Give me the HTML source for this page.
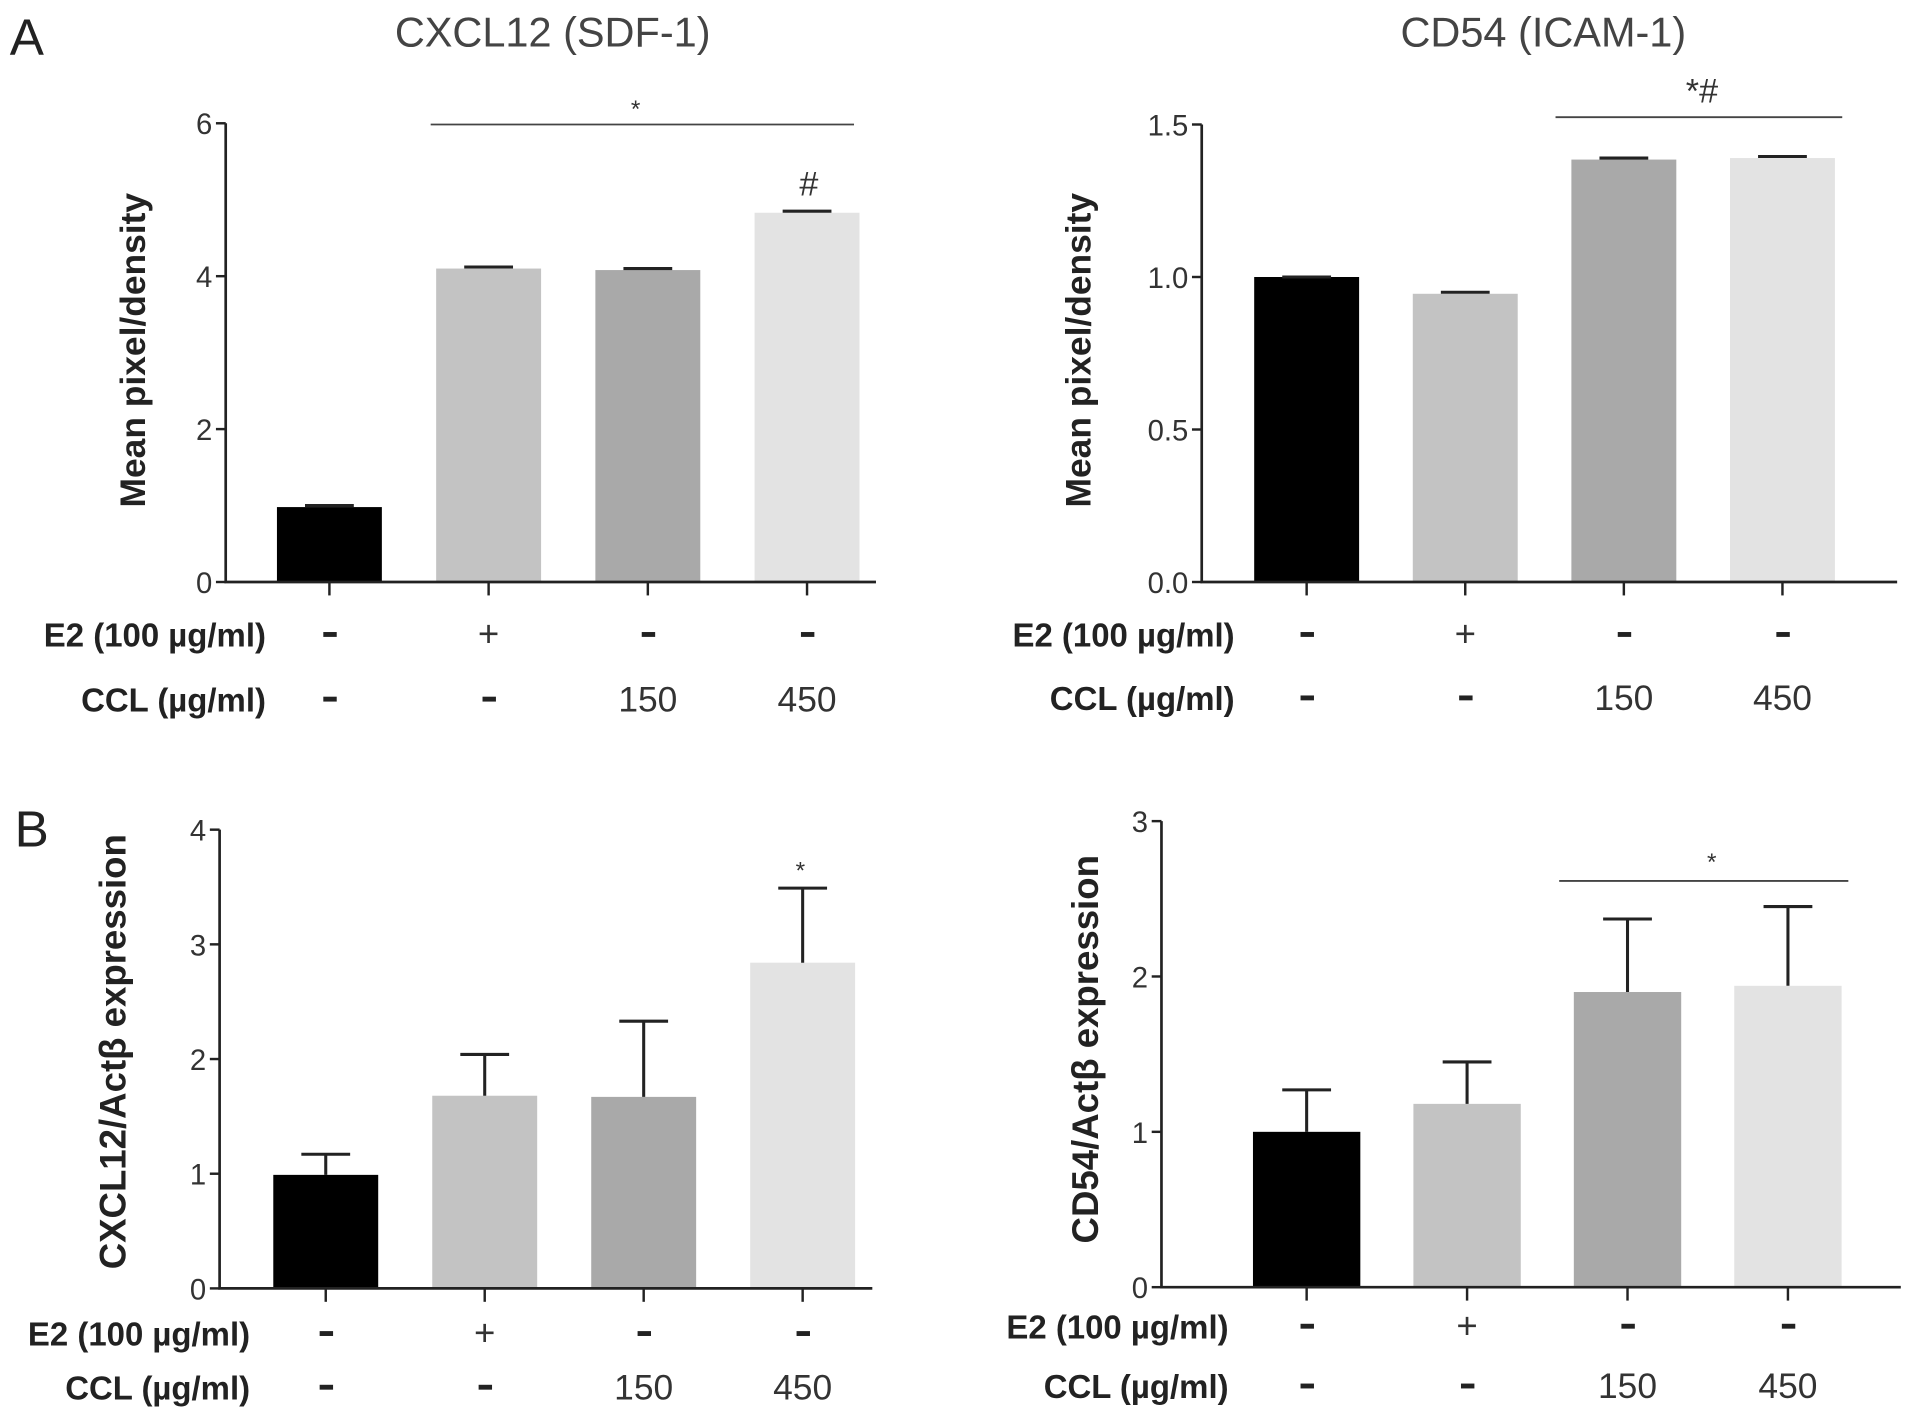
<!DOCTYPE html>
<html><head><meta charset="utf-8"><style>
html,body{margin:0;padding:0;background:#fff;}
svg{display:block;font-family:"Liberation Sans",sans-serif;}
</style></head><body>
<svg id="fig" width="1913" height="1419" viewBox="0 0 1568 1163">
<text x="8" y="45" font-size="42" fill="#222">A</text>
<text x="12" y="694" font-size="42" fill="#222">B</text>
</svg>
<script>
const categories = ["Control", "E2", "CCL150", "CCL450"];
const e2Labels = ["-", "+", "-", "-"];
const cclLabels = ["-", "-", "150", "450"];
const colors = ["#000000", "#c3c3c3", "#a9a9a9", "#e3e3e3"];
const aCxclValues = [0.98, 4.1, 4.08, 4.83];
const aCxclErr = [1.0, 4.12, 4.1, 4.85];
const aCxclTicks = [0, 2, 4, 6];
const aCd54Values = [1.0, 0.945, 1.385, 1.39];
const aCd54Err = [1.0, 0.95, 1.39, 1.395];
const aCd54Ticks = ["0.0", "0.5", "1.0", "1.5"];
const bCxclValues = [0.99, 1.68, 1.67, 2.84];
const bCxclErr = [1.17, 2.04, 2.33, 3.49];
const bCxclTicks = [0, 1, 2, 3, 4];
const bCd54Values = [1.0, 1.18, 1.9, 1.94];
const bCd54Err = [1.27, 1.45, 2.37, 2.45];
const bCd54Ticks = [0, 1, 2, 3];

const NS = "http://www.w3.org/2000/svg";
const svg = document.getElementById("fig");
function mk(tag, attrs, parent, txt) {
  const e = document.createElementNS(NS, tag);
  for (const k in attrs) e.setAttribute(k, attrs[k]);
  if (txt !== undefined) e.textContent = txt;
  (parent || svg).appendChild(e);
  return e;
}
function signLabel(g, x, yy, s) {
  if (s === "-") {
    const d = mk("rect", {x: x - 5, y: yy - 2, width: 11, height: 4, fill: "#222"}, g);
    
    
  } else {
    const t = mk("text", {x: x, y: yy + 10, "font-size": s === "+" ? 30 : 29, fill: "#333", "text-anchor": "middle"}, g, s);
    
    
  }
}
function panel(p) {
  const g = mk("g", {});
  
  
  const ticks = p.ticks.map(Number);
  const vmax = ticks[ticks.length - 1];
  const y = v => p.y0 - (v / vmax) * (p.y0 - p.yTop);
  const x = i => p.x1 + p.step * i;
  if (p.title) {
    const t = mk("text", {x: p.titleX, y: 38, "font-size": 34, fill: "#444", "text-anchor": "middle"}, g, p.title);
    
    
  }
  p.values.forEach((v, i) => {
    const r = mk("rect", {x: x(i) - p.bw / 2, y: y(v), width: p.bw, height: p.y0 - y(v), fill: colors[i]}, g);
    
    
    const e = p.err[i];
    const eb = mk("path", {d: `M${x(i)} ${y(v)}V${y(e)}M${x(i) - p.cap} ${y(e)}H${x(i) + p.cap}`, stroke: "#222", "stroke-width": 2.5, fill: "none"}, g);
    
    
  });
  const ax = mk("path", {d: `M${p.ax} ${p.yTop}V${p.y0}H${p.xEnd}`, stroke: "#222", "stroke-width": 2.2, fill: "none"}, g);
  
  
  p.ticks.forEach(t => {
    const yy = y(Number(t));
    mk("line", {x1: p.ax - 8, x2: p.ax, y1: yy, y2: yy, stroke: "#222", "stroke-width": 2}, g);
    const tl = mk("text", {x: p.ax - 11, y: yy + 9, "font-size": 24, fill: "#333", "text-anchor": "end"}, g, String(t));
    
    
  });
  categories.forEach((c, i) => {
    mk("line", {x1: x(i), x2: x(i), y1: p.y0, y2: p.y0 + 11, stroke: "#222", "stroke-width": 2}, g);
    signLabel(g, x(i), p.rowE, e2Labels[i]);
    signLabel(g, x(i), p.rowC, cclLabels[i]);
  });
  const l1 = mk("text", {x: p.labX, y: p.rowE + 10, "font-size": 27, "font-weight": "bold", fill: "#222", "text-anchor": "end"}, g, "E2 (100 µg/ml)");
  
  
  const l2 = mk("text", {x: p.labX, y: p.rowC + 10, "font-size": 27, "font-weight": "bold", fill: "#222", "text-anchor": "end"}, g, "CCL (µg/ml)");
  
  
  const yt = mk("text", {x: 0, y: 0, "font-size": p.ytSize, "font-weight": "bold", fill: "#222", "text-anchor": "middle", transform: `translate(${p.ytX},${p.ytY}) rotate(-90)`}, g, p.ytitle);
  
  
  if (p.sigLine) {
    const s = mk("line", {x1: p.sigLine[0], x2: p.sigLine[1], y1: p.sigLine[2], y2: p.sigLine[2], stroke: "#444", "stroke-width": 1.5}, g);
    
    
  }
  p.marks.forEach(m => {
    const t = mk("text", {x: m[0], y: m[1], "font-size": m[3] || 22, fill: "#333", "text-anchor": "middle"}, g, m[2]);
    
    
  });
}
panel({name: "chart-a-cxcl12", title: "CXCL12 (SDF-1)", titleX: 453, ticks: aCxclTicks, values: aCxclValues, err: aCxclErr,
  ax: 185, yTop: 101, y0: 477, xEnd: 718, x1: 270, step: 130.5, bw: 86, cap: 20, rowE: 520, rowC: 573, labX: 218,
  ytitle: "Mean pixel/density", ytSize: 29, ytX: 119, ytY: 287, sigLine: [353, 700, 102], marks: [[521, 96, "*", 20], [663, 160, "#", 28]]});
panel({name: "chart-a-cd54", title: "CD54 (ICAM-1)", titleX: 1265, ticks: aCd54Ticks, values: aCd54Values, err: aCd54Err,
  ax: 985, yTop: 102, y0: 477, xEnd: 1555, x1: 1071, step: 130, bw: 86, cap: 20, rowE: 520, rowC: 572, labX: 1012,
  ytitle: "Mean pixel/density", ytSize: 29, ytX: 894, ytY: 287, sigLine: [1275, 1510, 96], marks: [[1395, 84, "*#", 28]]});
panel({name: "chart-b-cxcl12", ticks: bCxclTicks, values: bCxclValues, err: bCxclErr,
  ax: 180, yTop: 680, y0: 1056, xEnd: 715, x1: 267, step: 130.3, bw: 86, cap: 20, rowE: 1093, rowC: 1137, labX: 205,
  ytitle: "CXCL12/Actβ expression", ytSize: 30, ytX: 103, ytY: 862, sigLine: null, marks: [[656, 720, "*", 20]]});
panel({name: "chart-b-cd54", ticks: bCd54Ticks, values: bCd54Values, err: bCd54Err,
  ax: 952, yTop: 673, y0: 1055, xEnd: 1558, x1: 1071, step: 131.5, bw: 88, cap: 20, rowE: 1087, rowC: 1136, labX: 1007,
  ytitle: "CD54/Actβ expression", ytSize: 30, ytX: 900, ytY: 860, sigLine: [1278, 1515, 722], marks: [[1403, 713, "*", 20]]});
</script>
</body></html>
